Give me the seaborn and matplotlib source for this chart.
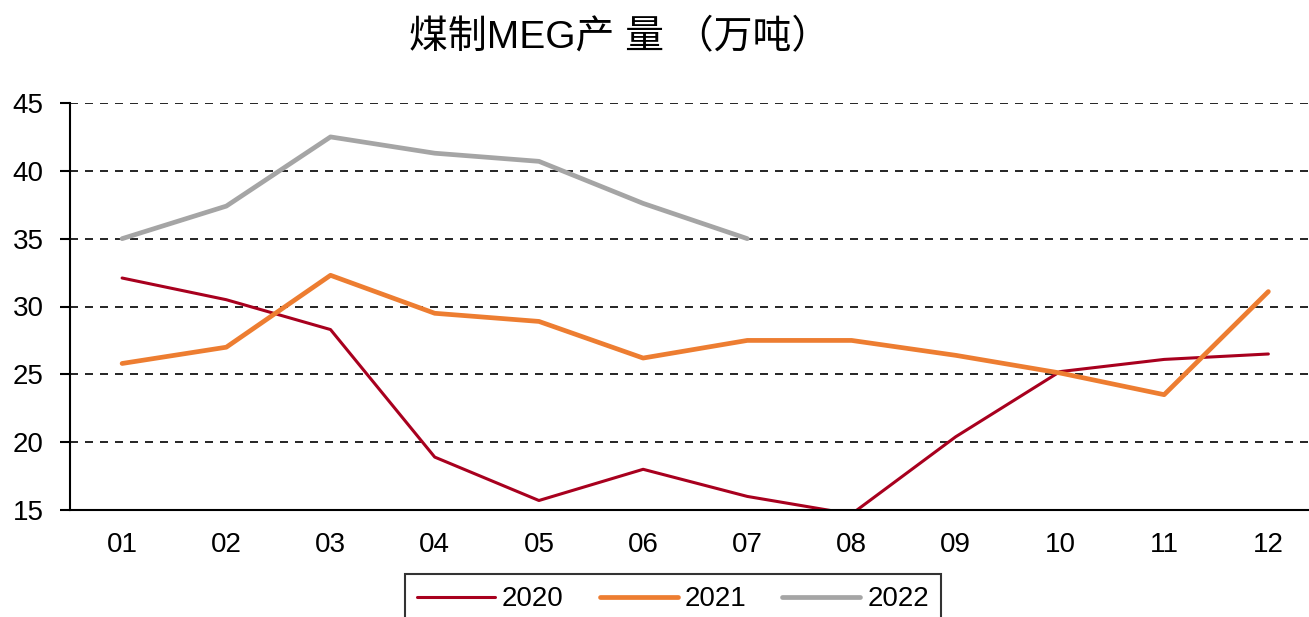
""" Coal-based MEG output chart """

import numpy as np
import pandas as pd
import matplotlib
matplotlib.use('Agg')
import matplotlib.pyplot as plt
import seaborn as sns

months = ['01', '02', '03', '04', '05', '06', '07', '08', '09', '10', '11', '12']
y2020 = [32.1, 30.5, 28.3, 18.9, 15.7, 18.0, 16.0, 14.7, 20.4, 25.2, 26.1, 26.5]
y2021 = [25.8, 27.0, 32.3, 29.5, 28.9, 26.2, 27.5, 27.5, 26.4, 25.1, 23.5, 31.1]
y2022 = [35.0, 37.4, 42.5, 41.3, 40.7, 37.6, 35.0]

sns.set_style('white')
plt.rcParams['font.family'] = ['Liberation Sans', 'Noto Sans CJK SC', 'DejaVu Sans']
plt.rcParams['text.color'] = 'black'
plt.rcParams['xtick.color'] = 'black'
plt.rcParams['ytick.color'] = 'black'

fig = plt.figure(figsize=(13.09, 6.17), dpi=100)
ax = fig.add_axes([70 / 1309, 1 - 510 / 617, 1 - 70 / 1309, (510 - 103) / 617])

series = [('2020', y2020, '#A8001E', 2.2),
          ('2021', y2021, '#ED7D31', 3.4),
          ('2022', y2022, '#A5A5A5', 3.4)]
for name, vals, col, lw in series:
    sns.lineplot(x=np.arange(len(vals)), y=vals, ax=ax, color=col, linewidth=lw,
                 label=name, solid_capstyle='round')

ax.set_xlim(-0.5, 11.39)
ax.set_ylim(15, 45)
ax.set_yticks(range(15, 46, 5))
ax.set_xticks(range(len(months)))
ax.set_xticklabels(months)
ax.set_xlabel('')
ax.set_ylabel('')

for y in range(20, 46, 5):
    ax.axhline(y, color='black', linewidth=1.2, linestyle=(0, (4.8, 4.2)), zorder=0)

for s in ['top', 'right']:
    ax.spines[s].set_visible(False)
for s in ['left', 'bottom']:
    ax.spines[s].set_color('black')
    ax.spines[s].set_linewidth(1.5)

ax.tick_params(axis='y', length=7, width=1.5, color='black', pad=12, labelsize=20, left=True)
ax.tick_params(axis='x', length=0, pad=16, labelsize=20)

leg = ax.legend(loc='upper center', bbox_to_anchor=(673 / 1309, 1 - 574 / 617),
                bbox_transform=fig.transFigure, borderaxespad=0, ncol=3, fontsize=20,
                frameon=True, fancybox=False, edgecolor='black', handlelength=2.8,
                handletextpad=0.25, columnspacing=1.3, borderpad=0.45)
leg.get_frame().set_linewidth(1.5)

fig.text(620 / 1309, 1 - 38 / 617, '煤制MEG产 量 （万吨）', ha='center', va='center',
         fontsize=28)

fig.savefig('out.png', dpi=100)
